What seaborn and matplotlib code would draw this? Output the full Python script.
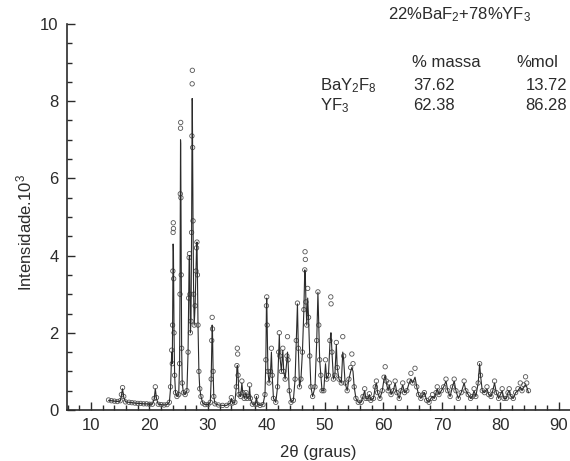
import numpy as np
import pandas as pd
import matplotlib
matplotlib.use("Agg")
import matplotlib.pyplot as plt
from matplotlib.ticker import MultipleLocator
import seaborn as sns

two_theta = [
    13.0, 13.5, 14.0, 14.5, 15.0, 15.2, 15.4, 15.6, 15.9, 16.5,
    17.0, 17.5, 18.0, 18.5, 19.0, 19.5, 20.0, 20.5, 20.8, 21.0,
    21.2, 21.5, 22.0, 22.5, 23.0, 23.4, 23.6, 23.8, 23.9, 23.95,
    24.00, 24.04, 24.07, 24.10, 24.14, 24.20, 24.30, 24.45, 24.70, 25.00,
    25.15, 25.22, 25.27, 25.31, 25.34, 25.38, 25.43, 25.50, 25.60, 25.80,
    26.10, 26.40, 26.60, 26.70, 26.78, 26.84, 26.92, 27.00, 27.10, 27.20,
    27.26, 27.30, 27.33, 27.38, 27.45, 27.55, 27.65, 27.80, 27.95, 28.05,
    28.12, 28.20, 28.30, 28.45, 28.60, 28.80, 29.10, 29.50, 30.00, 30.40,
    30.55, 30.65, 30.72, 30.78, 30.88, 31.00, 31.20, 31.80, 32.50, 33.20,
    33.80, 34.00, 34.20, 34.60, 34.85, 34.95, 35.02, 35.08, 35.15, 35.30,
    35.60, 35.80, 35.95, 36.20, 36.50, 36.70, 37.00, 37.12, 37.25, 37.60,
    38.10, 38.30, 38.45, 38.90, 39.40, 39.75, 39.90, 40.00, 40.05, 40.12,
    40.25, 40.45, 40.70, 40.85, 40.98, 41.20, 41.60, 41.90, 42.10, 42.20,
    42.30, 42.55, 42.80, 42.95, 43.20, 43.50, 43.60, 43.70, 43.90, 44.20,
    44.60, 44.90, 45.10, 45.30, 45.45, 45.65, 45.90, 46.15, 46.40, 46.55,
    46.60, 46.65, 46.75, 46.90, 47.05, 47.20, 47.40, 47.60, 47.90, 48.30,
    48.60, 48.80, 48.95, 49.10, 49.30, 49.50, 49.80, 50.10, 50.30, 50.60,
    50.85, 51.00, 51.05, 51.20, 51.45, 51.70, 51.95, 52.10, 52.40, 52.80,
    53.05, 53.20, 53.45, 53.80, 54.10, 54.40, 54.60, 54.80, 55.00, 55.30,
    55.70, 56.20, 56.50, 56.80, 57.00, 57.40, 57.60, 57.85, 58.30, 58.60,
    58.80, 59.00, 59.40, 59.80, 60.10, 60.30, 60.50, 60.80, 61.00, 61.30,
    61.70, 62.00, 62.30, 62.70, 63.00, 63.30, 63.60, 64.00, 64.40, 64.70,
    65.00, 65.40, 65.70, 66.00, 66.40, 66.80, 67.00, 67.40, 67.80, 68.10,
    68.40, 68.70, 69.00, 69.20, 69.50, 69.90, 70.30, 70.70, 71.00, 71.40,
    71.80, 72.10, 72.40, 72.80, 73.30, 73.80, 74.10, 74.50, 74.90, 75.20,
    75.50, 75.80, 76.20, 76.45, 76.60, 76.90, 77.30, 77.70, 78.00, 78.40,
    78.70, 79.00, 79.30, 79.70, 80.00, 80.30, 80.60, 81.00, 81.30, 81.50,
    81.80, 82.20, 82.60, 83.00, 83.40, 83.70, 84.00, 84.30, 84.50, 84.80,
]
i_obs = [
    0.26, 0.24, 0.23, 0.22, 0.24, 0.40, 0.58, 0.35, 0.21, 0.20,
    0.19, 0.18, 0.17, 0.17, 0.16, 0.16, 0.15, 0.15, 0.30, 0.60,
    0.32, 0.15, 0.14, 0.13, 0.14, 0.20, 0.60, 1.55, 1.20, 2.20,
    3.60, 4.60, 4.85, 4.70, 3.40, 2.00, 0.90, 0.45, 0.35, 0.40,
    1.20, 3.00, 5.60, 7.30, 7.45, 5.50, 3.50, 1.60, 0.70, 0.45,
    0.40, 0.50, 1.50, 2.90, 3.95, 4.05, 3.00, 2.00, 2.30, 4.60,
    7.10, 8.45, 8.80, 6.80, 4.90, 3.00, 2.20, 2.70, 3.60, 4.20,
    4.35, 3.50, 2.20, 1.00, 0.55, 0.35, 0.18, 0.14, 0.14, 0.20,
    0.80, 1.80, 2.40, 2.10, 1.00, 0.35, 0.16, 0.13, 0.12, 0.12,
    0.18, 0.32, 0.18, 0.20, 0.60, 1.15, 1.60, 1.45, 0.90, 0.40,
    0.35, 0.75, 0.45, 0.30, 0.45, 0.30, 0.35, 0.65, 0.30, 0.15,
    0.15, 0.35, 0.15, 0.12, 0.14, 0.40, 1.30, 2.70, 2.93, 2.20,
    1.00, 0.70, 1.00, 1.60, 0.90, 0.30, 0.20, 0.60, 1.50, 2.00,
    1.40, 1.00, 1.60, 1.00, 0.80, 1.40, 1.90, 1.30, 0.50, 0.20,
    0.25, 0.80, 1.80, 2.77, 1.60, 0.60, 0.80, 1.50, 2.60, 3.63,
    4.10, 3.90, 2.80, 2.20, 3.15, 2.40, 1.40, 0.60, 0.35, 0.60,
    1.80, 3.06, 2.20, 1.30, 0.90, 0.50, 0.50, 1.30, 0.80, 0.90,
    1.80, 2.93, 2.75, 1.50, 0.80, 0.90, 1.75, 1.10, 0.80, 0.70,
    1.90, 1.40, 0.70, 0.50, 0.80, 1.10, 1.45, 1.20, 0.60, 0.30,
    0.20, 0.20, 0.35, 0.55, 0.30, 0.30, 0.42, 0.25, 0.30, 0.60,
    0.75, 0.45, 0.30, 0.50, 0.85, 1.12, 0.75, 0.50, 0.70, 0.40,
    0.50, 0.75, 0.45, 0.30, 0.50, 0.70, 0.45, 0.50, 0.75, 0.95,
    0.70, 1.08, 0.60, 0.40, 0.30, 0.40, 0.45, 0.25, 0.20, 0.30,
    0.40, 0.30, 0.45, 0.60, 0.40, 0.50, 0.60, 0.80, 0.50, 0.35,
    0.60, 0.80, 0.50, 0.30, 0.45, 0.75, 0.50, 0.40, 0.30, 0.35,
    0.55, 0.35, 0.70, 1.20, 0.90, 0.50, 0.45, 0.60, 0.40, 0.35,
    0.50, 0.75, 0.45, 0.30, 0.40, 0.55, 0.30, 0.30, 0.45, 0.55,
    0.35, 0.30, 0.45, 0.55, 0.70, 0.50, 0.65, 0.86, 0.70, 0.50,
]
i_calc = [
    0.25, 0.24, 0.23, 0.22, 0.23, 0.38, 0.55, 0.33, 0.21, 0.20,
    0.19, 0.18, 0.17, 0.17, 0.16, 0.16, 0.15, 0.15, 0.28, 0.55,
    0.30, 0.15, 0.14, 0.13, 0.14, 0.20, 0.55, 1.50, 1.20, 2.10,
    3.50, 4.30, 4.25, 4.10, 3.30, 2.00, 0.90, 0.45, 0.35, 0.40,
    1.20, 3.00, 5.50, 7.00, 6.90, 5.50, 3.50, 1.60, 0.70, 0.45,
    0.40, 0.50, 1.50, 2.90, 3.90, 4.00, 3.00, 2.00, 2.30, 4.50,
    7.00, 8.07, 8.00, 6.70, 4.80, 3.00, 2.20, 2.70, 3.60, 4.20,
    4.35, 3.50, 2.20, 1.00, 0.55, 0.35, 0.18, 0.14, 0.14, 0.20,
    0.80, 1.70, 2.20, 2.00, 1.00, 0.35, 0.16, 0.13, 0.12, 0.12,
    0.18, 0.30, 0.18, 0.20, 0.60, 1.10, 1.15, 1.10, 0.90, 0.40,
    0.35, 0.70, 0.45, 0.30, 0.45, 0.30, 0.35, 0.60, 0.30, 0.15,
    0.15, 0.35, 0.15, 0.12, 0.14, 0.40, 1.30, 2.70, 2.90, 2.20,
    1.00, 0.70, 1.00, 1.50, 0.90, 0.30, 0.20, 0.60, 1.50, 1.95,
    1.40, 1.00, 1.55, 1.00, 0.80, 1.30, 1.50, 1.25, 0.50, 0.20,
    0.25, 0.80, 1.80, 2.75, 1.60, 0.60, 0.80, 1.50, 2.60, 3.63,
    3.60, 3.50, 2.80, 2.20, 2.90, 2.40, 1.40, 0.60, 0.35, 0.60,
    1.80, 3.05, 2.20, 1.30, 0.90, 0.50, 0.50, 1.20, 0.80, 0.90,
    1.70, 2.00, 2.00, 1.50, 0.80, 0.90, 1.70, 1.10, 0.80, 0.70,
    1.50, 1.30, 0.70, 0.50, 0.80, 1.00, 1.10, 1.00, 0.60, 0.30,
    0.20, 0.20, 0.35, 0.50, 0.30, 0.30, 0.40, 0.25, 0.30, 0.60,
    0.70, 0.45, 0.30, 0.50, 0.80, 0.90, 0.70, 0.50, 0.65, 0.40,
    0.50, 0.70, 0.45, 0.30, 0.50, 0.65, 0.45, 0.50, 0.70, 0.80,
    0.70, 0.85, 0.60, 0.40, 0.30, 0.40, 0.45, 0.25, 0.20, 0.30,
    0.35, 0.30, 0.45, 0.55, 0.40, 0.50, 0.60, 0.75, 0.50, 0.35,
    0.60, 0.75, 0.50, 0.30, 0.45, 0.70, 0.50, 0.40, 0.30, 0.35,
    0.50, 0.35, 0.70, 1.20, 0.90, 0.50, 0.45, 0.55, 0.40, 0.35,
    0.50, 0.70, 0.45, 0.30, 0.40, 0.50, 0.30, 0.30, 0.45, 0.50,
    0.35, 0.30, 0.45, 0.50, 0.60, 0.50, 0.60, 0.65, 0.60, 0.45,
]

# annotation table
title_text = "22%BaF$_2$+78%YF$_3$"
col_headers = ["% massa", "%mol"]
phases = ["BaY$_2$F$_8$", "YF$_3$"]
pct_mass = ["37.62", "62.38"]
pct_mol = ["13.72", "86.28"]

x_ticks = [10, 20, 30, 40, 50, 60, 70, 80, 90]
y_ticks = [0, 2, 4, 6, 8, 10]

assert len(two_theta) == len(i_obs) == len(i_calc)
df = pd.DataFrame({"two_theta": two_theta, "obs": i_obs, "calc": i_calc})

sns.set_theme(style="ticks")
plt.rcParams["font.family"] = ["Liberation Sans", "DejaVu Sans"]
plt.rcParams["mathtext.fontset"] = "custom"
plt.rcParams["mathtext.rm"] = "Liberation Sans"
plt.rcParams["mathtext.it"] = "Liberation Sans:italic"
plt.rcParams["mathtext.bf"] = "Liberation Sans:bold"

W, H = 570, 461
fig = plt.figure(figsize=(W / 100, H / 100), dpi=100)
ax = fig.add_axes([67 / W, 1 - 410 / H, (570 - 67) / W, (410 - 24) / H])

ink = "#2b2b2b"
sns.lineplot(data=df, x="two_theta", y="calc", ax=ax, color=ink, lw=0.8,
             sort=False, zorder=3)
sns.scatterplot(data=df, x="two_theta", y="obs", ax=ax, marker="o",
                facecolors="none", edgecolor="#555555", linewidth=0.6,
                s=10, zorder=2)

ax.set_xlim(5.9, 91.9)
ax.set_ylim(0, 10)
ax.set_xticks(x_ticks)
ax.set_yticks(y_ticks)
ax.xaxis.set_minor_locator(MultipleLocator(2))
ax.yaxis.set_minor_locator(MultipleLocator(0.5))
ax.tick_params(axis="both", which="major", direction="in", length=6,
               width=1.0, labelsize=12, colors=ink, pad=6)
ax.tick_params(axis="both", which="minor", direction="in", length=3.5,
               width=1.0, colors=ink)
for s in ["top", "right"]:
    ax.spines[s].set_visible(False)
for s in ["left", "bottom"]:
    ax.spines[s].set_color(ink)
    ax.spines[s].set_linewidth(1.2)
ax.set_xlabel("")
ax.set_ylabel("")

def px(x, y):
    return x / W, 1 - y / H

fig.text(*px(318, 452), "2θ (graus)", ha="center", va="center",
         fontsize=12, color=ink)
fig.text(*px(24, 232), "Intensidade.10$^3$", ha="center", va="center",
         rotation=90, fontsize=12, color=ink)

fig.text(*px(460, 15), title_text, ha="center", va="center",
         fontsize=12, color=ink)
fig.text(*px(446, 62), col_headers[0], ha="center", va="center",
         fontsize=12, color=ink)
fig.text(*px(537, 62), col_headers[1], ha="center", va="center",
         fontsize=12, color=ink)
row_y = [86, 106]
for k in range(2):
    fig.text(*px(320, row_y[k]), phases[k], ha="left", va="center",
             fontsize=12, color=ink)
    fig.text(*px(434, row_y[k]), pct_mass[k], ha="center", va="center",
             fontsize=12, color=ink)
    fig.text(*px(567, row_y[k]), pct_mol[k], ha="right", va="center",
             fontsize=12, color=ink)

fig.savefig("out.png", dpi=100, facecolor="white")
